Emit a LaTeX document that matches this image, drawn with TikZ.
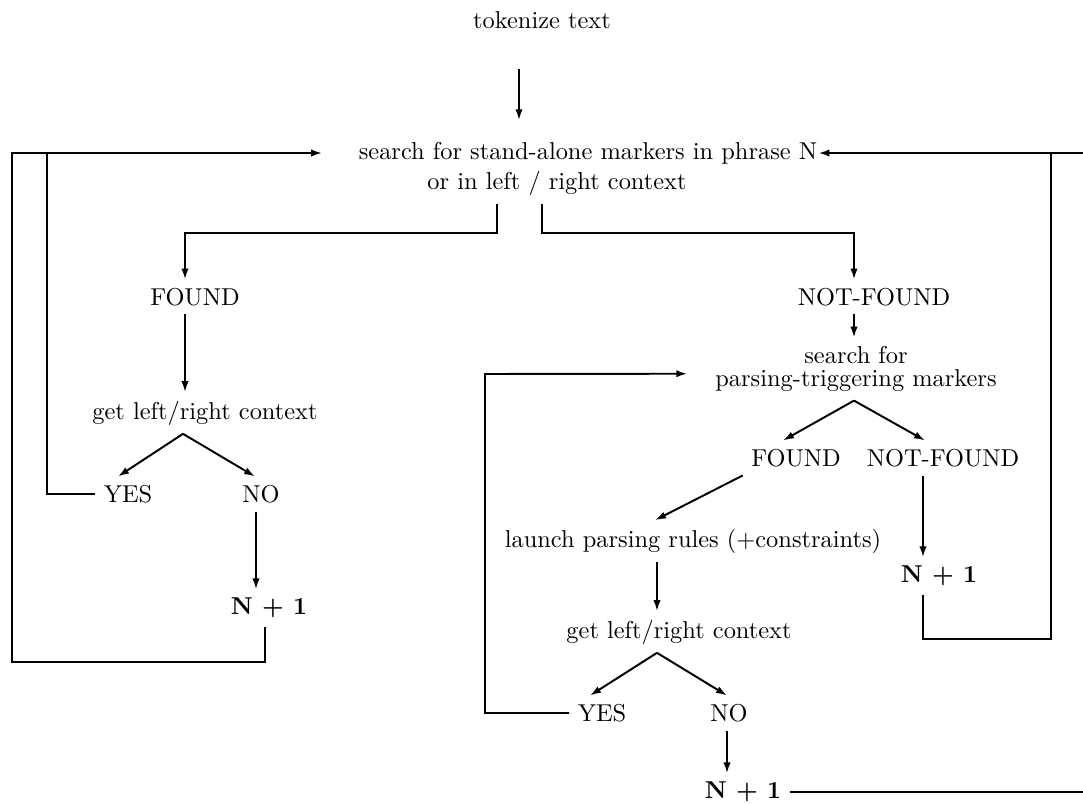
\documentclass[tikz,border=0pt]{standalone}
\usepackage{tikz}
\usetikzlibrary{arrows.meta}

\begin{document}
\begin{tikzpicture}[
    x=0.0144cm, y=-0.0144cm,
    line/.style={line width=0.8pt},
    arr/.style={line, ->, >={Latex[length=4.5pt,width=3pt]}},
    bold/.style={font=\bfseries}
  ]
    \useasboundingbox (0,0) rectangle (1083,803);
    \clip (0,0) rectangle (1083,803);

    \node (tok) at (542,20) {tokenize text};
    \node (srch1) at (588,153) {search for stand-alone markers in phrase N};
    \node (srch2) at (557,183) {or in left / right context};

    \node (fnd) at (195,297) {FOUND};
    \node (ctx1) at (205,413) {get left/right context};
    \node (yes1) at (128,494) {YES};
    \node (no1) at (261,494) {NO};
    \node[bold] (nxt1) at (269,608) {N + 1};

    \node (nfnd) at (874,297) {NOT-FOUND};
    \node (psrch1) at (856,355) {search for};
    \node (psrch2) at (856,381) {parsing-triggering markers};
    \node (pfnd) at (796,458) {FOUND};
    \node (pnfnd) at (943,458) {NOT-FOUND};
    \node (launch) at (693,541) {launch parsing rules (+constraints)};
    \node (ctx2) at (679,632) {get left/right context};
    \node (yes2) at (602,713) {YES};
    \node (no2) at (729,713) {NO};
    \node[bold] (nxt2) at (743,792) {N + 1};
    \node[bold] (nxt3) at (939,576) {N + 1};

    \draw[arr, shorten <=13pt, shorten >=5.4pt] (tok.south -| 519,0) -- (srch1.north -| 519,0);

    \draw[arr] (srch2.south -| 497,0) -- (497,233) -| (fnd.north -| 185,0);
    \draw[arr] (srch2.south -| 542,0) -- (542,233) -| (nfnd.north -| 854,0);

    \draw[arr] (fnd.south -| 185,0) -- (ctx1.north -| 185,0);
    \draw[arr] (ctx1.south -| 183,0) -- (yes1.north -| 118,0);
    \draw[arr] (ctx1.south -| 183,0) -- (no1.north -| 255,0);
    \draw[line] (yes1.west) -| (47,153);
    \draw[arr] (no1.south -| 256,0) -- (nxt1.north -| 256,0);
    \draw[arr, shorten >=11.5pt] (nxt1.south -| 265,0) -- (265,662) -| (12,153) -- (srch1.west);

    \draw[arr] (nfnd.south -| 854,0) -- (psrch1.north -| 854,0);
    \draw[arr] (psrch2.south -| 854,0) -- (pfnd.north -| 783,0);
    \draw[arr] (psrch2.south -| 854,0) -- (pnfnd.north -| 925,0);
    \draw[arr] (pfnd.south west) -- (launch.north -| 655,0);
    \draw[arr] (launch.south -| 657,0) -- (ctx2.north -| 657,0);
    \draw[arr] (ctx2.south -| 657,0) -- (yes2.north -| 590,0);
    \draw[arr] (ctx2.south -| 657,0) -- (no2.north -| 727,0);
    \draw[arr, shorten >=8pt] (yes2.west) -| (485,374) -- ([yshift=3pt]psrch2.west);
    \draw[arr] (no2.south -| 727,0) -- (nxt2.north -| 727,0);
    \draw[arr, shorten >=-3pt] (nxt2.east) -- (1090,792) -- (1090,153) -- (srch1.east);

    \draw[arr] (pnfnd.south -| 923,0) -- (nxt3.north -| 923,0);
    \draw[line] (nxt3.south -| 923,0) |- (1051,639) -- (1051,153);

  \end{tikzpicture}
\end{document}
